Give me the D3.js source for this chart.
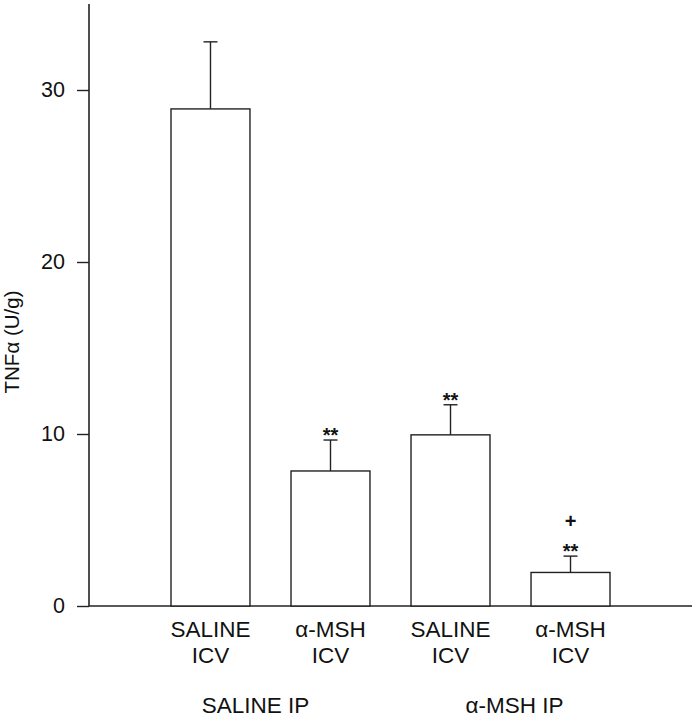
<!DOCTYPE html>
<html lang="en">
<head>
<meta charset="UTF-8">
<title>TNFa</title>
<script src="https://d3js.org/d3.v7.min.js"></script>
<style>
    body { margin: 0; background: #fff; }
    text { font-family: "Liberation Sans", Arial, sans-serif; fill: #111; }
</style>
</head>
<body>
<svg id="chart" width="697" height="719"></svg>
<script>
    // data
    const categories = ["SALINE\nICV", "α-MSH\nICV", "SALINE\nICV", "α-MSH\nICV"];
    const groups = ["SALINE IP", "α-MSH IP"];
    const values = [28.9, 7.85, 9.95, 1.95];
    const errors = [3.9, 1.8, 1.75, 0.95];
    const marks = [[], ["**"], ["**"], ["**", "+"]];
    const yTicks = [0, 10, 20, 30];

    const svg = d3.select("#chart");
    const ink = "#222";

    let x = d3.scaleBand()
        .domain(d3.range(categories.length))
        .range([111, 670])
        .paddingInner(0.342)
        .paddingOuter(0.5);

    let y = d3.scaleLinear()
        .domain([0, 35])
        .range([606, 4]);

    // y axis
    let yAxis = svg.append("g")
        .attr("transform", "translate(89,0)")
        .call(d3.axisLeft(y).tickValues(yTicks).tickSize(12).tickPadding(12));
    yAxis.select(".domain").attr("stroke", ink).attr("stroke-width", 1.6).attr("d", `M0,${y(0)}V${y(35)}`);
    yAxis.selectAll(".tick line").attr("stroke", ink).attr("stroke-width", 1.4);
    yAxis.selectAll(".tick text").attr("font-size", 21.5).attr("font-family", "Liberation Sans, Arial, sans-serif").attr("fill", "#111");

    // x baseline
    svg.append("line")
        .attr("x1", 89).attr("x2", 692)
        .attr("y1", y(0)).attr("y2", y(0))
        .attr("stroke", ink).attr("stroke-width", 1.6);

    // bars
    svg.selectAll(".bar")
        .data(values)
        .enter().append("rect")
        .attr("x", (d, i) => x(i))
        .attr("y", d => y(d))
        .attr("width", x.bandwidth())
        .attr("height", d => y(0) - y(d))
        .attr("fill", "#fff")
        .attr("stroke", ink)
        .attr("stroke-width", 1.4);

    // error bars
    const eb = svg.selectAll(".err").data(values).enter().append("g");
    eb.append("line")
        .attr("x1", (d, i) => x(i) + x.bandwidth() / 2)
        .attr("x2", (d, i) => x(i) + x.bandwidth() / 2)
        .attr("y1", d => y(d))
        .attr("y2", (d, i) => y(d + errors[i]))
        .attr("stroke", ink).attr("stroke-width", 1.4);
    eb.append("line")
        .attr("x1", (d, i) => x(i) + x.bandwidth() / 2 - 7)
        .attr("x2", (d, i) => x(i) + x.bandwidth() / 2 + 7)
        .attr("y1", (d, i) => y(d + errors[i]))
        .attr("y2", (d, i) => y(d + errors[i]))
        .attr("stroke", ink).attr("stroke-width", 1.4);

    // significance marks
    values.forEach((v, i) => {
        marks[i].forEach((m, k) => {
            svg.append("text")
                .attr("x", x(i) + x.bandwidth() / 2)
                .attr("y", y(v + errors[i]) - 6 - k * 22 + (m === "**" ? 8 : 0))
                .attr("text-anchor", "middle")
                .attr("font-size", 20)
                .attr("font-weight", "bold")
                .text(m);
        });
    });

    // category labels
    categories.forEach((c, i) => {
        const t = svg.append("text")
            .attr("x", x(i) + x.bandwidth() / 2)
            .attr("y", 637)
            .attr("text-anchor", "middle")
            .attr("font-size", 22.5);
        c.split("\n").forEach((line, k) => {
            t.append("tspan")
                .attr("x", x(i) + x.bandwidth() / 2)
                .attr("dy", k === 0 ? 0 : 26)
                .text(line);
        });
    });

    // group labels
    const groupShift = [-15, 4];
    groups.forEach((g, j) => {
        const mid = (x(j * 2) + x(j * 2 + 1) + x.bandwidth()) / 2;
        svg.append("text")
            .attr("x", mid + groupShift[j])
            .attr("y", 713)
            .attr("text-anchor", "middle")
            .attr("font-size", 22.5)
            .text(g);
    });

    // y title
    svg.append("text")
        .attr("transform", "translate(19,342) rotate(-90)")
        .attr("text-anchor", "middle")
        .attr("font-size", 20.5)
        .text("TNFα (U/g)");
</script>
</body>
</html>
